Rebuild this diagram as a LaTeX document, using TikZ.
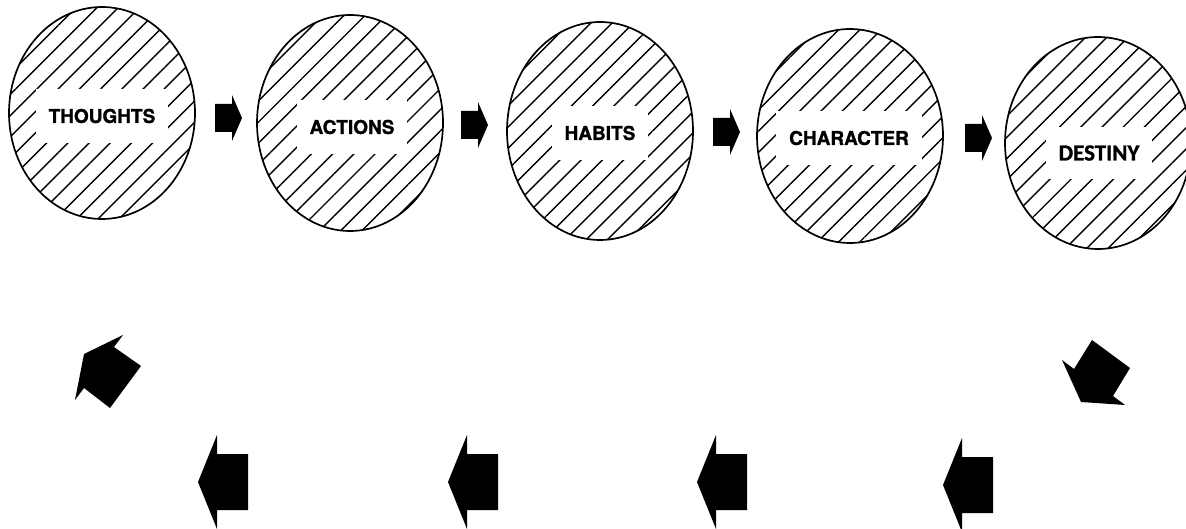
\documentclass[tikz,border=0pt]{standalone}
\usepackage{fontspec}
\setmainfont{TeX Gyre Heros}[BoldFeatures={FakeBold=1.2}]
\newfontfamily\destfont{Carlito}[BoldFeatures={FakeBold=1.2}]
\usetikzlibrary{shapes.geometric,patterns.meta}
\tikzset{
  circ/.style={ellipse, draw=black, line width=1.7pt,
    pattern={Lines[angle=45,distance=15pt,line width=1.4pt]},
    minimum width=186pt, minimum height=212pt, inner sep=0pt},
  lbl/.style={fill=white, inner xsep=13pt, inner ysep=20pt,
    font=\bfseries\fontsize{19}{19}\selectfont},
  dlbl/.style={fill=white, inner xsep=13pt, inner ysep=18pt,
    font=\destfont\bfseries\fontsize{23}{23}\selectfont},
  blk/.style={fill=black},
  larrow/.pic={\fill[blk] (0,0) -- (19,-47) -- (19,-28) -- (50,-28) -- (50,28) -- (19,28) -- (19,47) -- cycle;},
  rarrow/.pic={\fill[blk] (0,0) -- (-10,-23) -- (-10,-14) -- (-27,-14) -- (-27,14) -- (-10,14) -- (-10,23) -- cycle;}
}
\begin{document}
\begin{tikzpicture}[x=1pt,y=-1pt]
\fill[white] (0,0) rectangle (1186,529);
\useasboundingbox (0,0) rectangle (1186,529);
% ellipses
\node[circ] (c1) at (102,113) {};
\node[circ, minimum height=216pt] (c2) at (350,123) {};
\node[circ, minimum height=218pt] (c3) at (600,131) {};
\node[circ, minimum height=214pt] (c4) at (850,136) {};
\node[circ] (c5) at (1098,143) {};
% labels
\node[lbl] (t1) at (102,116) {THOUGHTS};
\node[lbl] (t2) at (352,127) {ACTIONS};
\node[lbl] (t3) at (600,133) {HABITS};
\node[lbl] (t4) at (849,138) {CHARACTER};
\node[dlbl] (t5) at (1099,153) {DESTINY};
% arrows between ellipses
\pic at (242,118) {rarrow};
\pic at (488,125) {rarrow};
\pic at (740,132) {rarrow};
\pic at (992,138) {rarrow};
% return arrows
\fill[blk] (1081,402) -- (1125,405) -- (1113,396) -- (1130,368) -- (1092,340) -- (1074,369) -- (1062,360) -- cycle;
\pic at (943,485) {larrow};
\pic at (697,482) {larrow};
\pic at (448,482) {larrow};
\pic at (198,482) {larrow};
\fill[blk] (84,354) -- (123,335) -- (114,347) -- (141,366) -- (110,408) -- (84,388) -- (75,400) -- cycle;
\end{tikzpicture}
\end{document}
